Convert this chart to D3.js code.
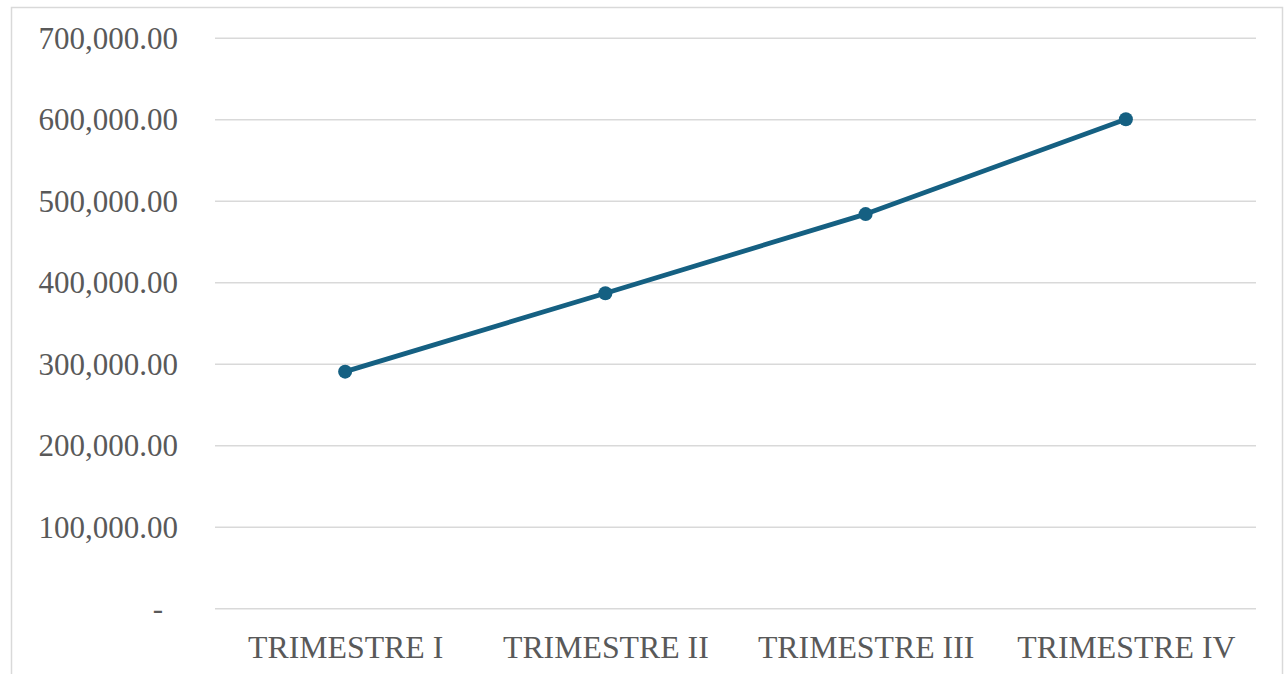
<!DOCTYPE html>
<html>
<head>
<meta charset="utf-8">
<script src="https://cdn.jsdelivr.net/npm/d3@7"></script>
<style>
  html, body { margin: 0; padding: 0; background: #fff; }
  svg { display: block; }
</style>
</head>
<body>
<svg id="chart" width="1285" height="674"></svg>
<script>
const categories = ["TRIMESTRE I", "TRIMESTRE II", "TRIMESTRE III", "TRIMESTRE IV"];
const values = [290300, 386500, 483600, 600000];
const yTicks = [0, 100000, 200000, 300000, 400000, 500000, 600000, 700000];

(function () {
const svg = d3.select("#chart");
const pLeft = 215, pRight = 1256, pTop = 37.7, pBottom = 608.3;
const font = "'Liberation Serif', 'Times New Roman', serif";
const textColor = "#595959";
const lineColor = "#156082";

// outer border
svg.append("rect")
  .attr("x", 11.5).attr("y", 7.5)
  .attr("width", 1271).attr("height", 680)
  .attr("fill", "#fff").attr("stroke", "#d9d9d9").attr("stroke-width", 1.5);

const x = d3.scalePoint().domain(categories).range([pLeft, pRight]).padding(0.5);
const y = d3.scaleLinear().domain([0, 700000]).range([pBottom, pTop]);

const fmt = d3.format(",.2f");

const yAxis = d3.axisLeft(y)
  .tickValues(yTicks)
  .tickSize(-(pRight - pLeft))
  .tickPadding(37)
  .tickFormat(d => d === 0 ? "-" : fmt(d));

const gy = svg.append("g").attr("transform", `translate(${pLeft},0)`).call(yAxis);
gy.select(".domain").remove();
gy.selectAll(".tick line").attr("stroke", "#d9d9d9").attr("stroke-width", 1.5);
gy.selectAll(".tick text")
  .attr("fill", textColor)
  .style("font-family", font)
  .style("font-size", "31px")
  .attr("dy", "0.34em")
  .attr("dx", d => d === 0 ? -15 : 0);

const xAxis = d3.axisBottom(x).tickSize(0).tickPadding(0);
const gx = svg.append("g").attr("transform", `translate(0,${pBottom})`).call(xAxis);
gx.select(".domain").remove();
gx.selectAll(".tick text")
  .attr("fill", textColor)
  .style("font-family", font)
  .style("font-size", "31.8px")
  .attr("y", 50)
  .attr("dy", 0);

const line = d3.line()
  .x((d, i) => x(categories[i]))
  .y(d => y(d));

svg.append("path")
  .datum(values)
  .attr("d", line)
  .attr("fill", "none")
  .attr("stroke", lineColor)
  .attr("stroke-width", 4.8)
  .attr("stroke-linejoin", "round")
  .attr("stroke-linecap", "round");

svg.selectAll("circle.pt")
  .data(values)
  .join("circle")
  .attr("class", "pt")
  .attr("cx", (d, i) => x(categories[i]))
  .attr("cy", d => y(d))
  .attr("r", 7)
  .attr("fill", lineColor);
})();
</script>
</body>
</html>
